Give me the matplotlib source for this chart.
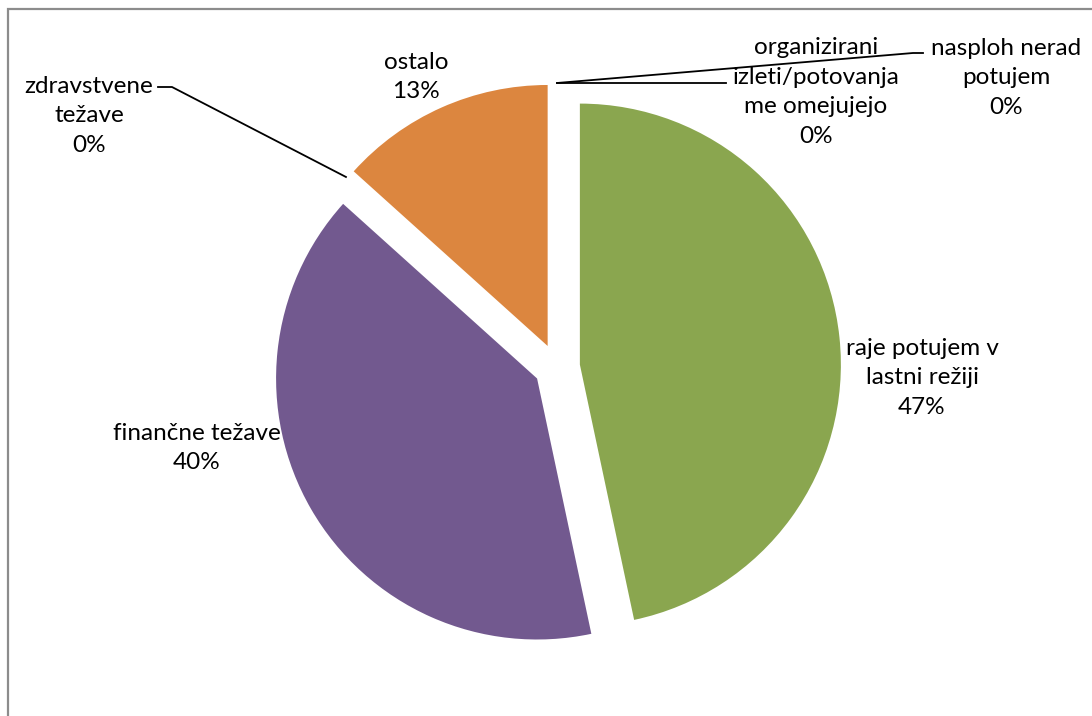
import matplotlib.pyplot as plt
import numpy as np
from matplotlib.patches import Rectangle

# data (share of answers, in order clockwise from 12 o'clock)
labels = ["raje potujem v\nlastni režiji", "finančne težave", "zdravstvene\ntežave",
          "ostalo", "organizirani\nizleti/potovanja\nme omejujejo", "nasploh nerad\npotujem"]
values = [7, 6, 0, 2, 0, 0]
colors = ["#8aa64f", "#72598f", "#4f81bd", "#dc863f", "#4bacc6", "#c0504d"]

plt.rcParams['font.family'] = ['Lato', 'DejaVu Sans']

W, H = 1092, 716
fig = plt.figure(figsize=(W / 100, H / 100), dpi=100)
ax = fig.add_axes([0, 0, 1, 1])

cx, cy, r = 557, H - 367, 261
ax.pie(values, colors=colors, startangle=90, counterclock=False,
       explode=[23] * len(values), radius=r, center=(cx, cy),
       wedgeprops=dict(linewidth=0))
ax.set_xlim(0, W)
ax.set_ylim(0, H)
ax.set_aspect('equal')
ax.axis('off')

total = sum(values)
pct = [f"{round(v / total * 100)}%" for v in values]

# angles of the slice boundaries (clockwise from top)
cum = np.cumsum([0] + values) / total * 360


def edge_point(theta, dist):
    t = np.radians(theta)
    return cx + dist * np.sin(t), cy + dist * np.cos(t)


fs = 17.5
ls = 1.5
# labels placed as in the reference (image pixel coords)
ax.text(922, H - 378, labels[0] + "\n" + pct[0], ha='center', va='center', fontsize=fs, linespacing=ls)
ax.text(197, H - 448, labels[1] + "\n" + pct[1], ha='center', va='center', fontsize=fs, linespacing=ls)
ax.text(416, H - 77, labels[3] + "\n" + pct[3], ha='center', va='center', fontsize=fs, linespacing=ls)
ax.text(89, H - 116, labels[2] + "\n" + pct[2], ha='center', va='center', fontsize=fs, linespacing=ls)
ax.text(816, H - 92, labels[4] + "\n" + pct[4], ha='center', va='center', fontsize=fs, linespacing=ls)
ax.text(1006, H - 78, labels[5] + "\n" + pct[5], ha='center', va='center', fontsize=fs, linespacing=ls)

# leader lines for the zero slices
x0, y0 = edge_point(cum[2], 284)
ax.plot([x0, 172, 158], [y0, H - 87, H - 87], color='black', lw=1.3)
x0, y0 = edge_point(cum[4], 284)
ax.plot([x0, 726], [y0, y0], color='black', lw=1.3)
ax.plot([x0, 913, 923], [y0, H - 53, H - 53], color='black', lw=1.3)

# chart area border (cut by the screenshot)
fig.patches.append(Rectangle((8 / W, -0.1), 1.2, (H - 9) / H + 0.1, transform=fig.transFigure,
                             fill=False, edgecolor='#8c8c8c', linewidth=1.6))

fig.savefig("out.png", dpi=100)
